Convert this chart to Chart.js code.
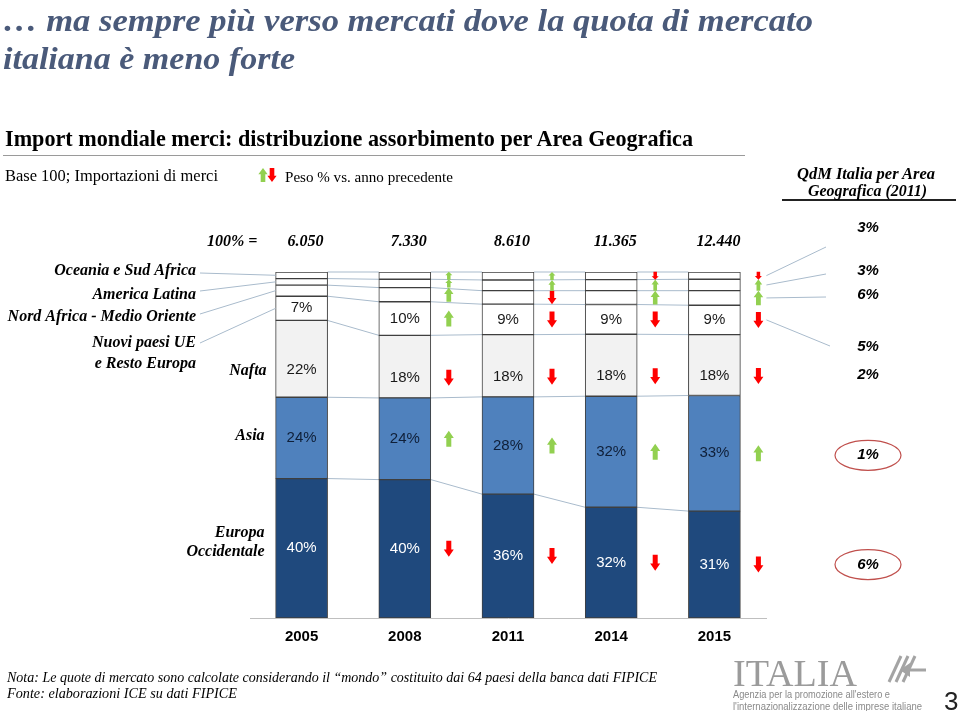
<!DOCTYPE html>
<html lang="it">
<head>
<meta charset="utf-8">
<title>Import mondiale merci</title>
<script src="https://cdn.jsdelivr.net/npm/chart.js@4.4.1/dist/chart.umd.min.js"></script>
<style>
  html, body { margin: 0; padding: 0; background: #fff; }
  #page { position: relative; width: 960px; height: 711px; overflow: hidden; }
  #chart { position: absolute; left: 0; top: 0; }
  .t { position: absolute; white-space: nowrap; line-height: 1; transform-origin: 0 0; }
  .rule { position: absolute; height: 0; }
</style>
</head>
<body>
<div id="page">
  <canvas id="chart" width="960" height="711"></canvas>
  <div class="rule" style="left:3px; top:155px; width:742px; border-top:1px solid #9a9a9a;"></div>
  <div class="rule" style="left:782px; top:199px; width:174px; border-top:2px solid #222;"></div>
  <svg style="position:absolute; left:886px; top:654px;" width="42" height="30" viewBox="0 0 42 30">
    <g stroke="#a4a4a4" stroke-width="3" fill="none">
      <line x1="3" y1="28" x2="15" y2="2"/>
      <line x1="10" y1="28" x2="22" y2="2"/>
      <line x1="17" y1="28" x2="29" y2="2"/>
      <line x1="16" y1="16" x2="40" y2="16"/>
    </g>
    <path d="M14 16 L24 9 L24 23 Z" fill="#a4a4a4"/>
  </svg>
</div>
<script>
/* ======================
   DATA
====================== */
const years = ["2005", "2008", "2011", "2014", "2015"];
const totals = [6050, 7330, 8610, 11365, 12440];

// quote % per area (dal basso verso l'alto)
const europaOcc = [40.3, 40.0, 35.8, 32.0, 30.9];
const asia      = [23.5, 23.6, 28.1, 32.1, 33.4];
const nafta     = [22.2, 18.1, 18.0, 17.9, 17.6];
const nuoviUE   = [7.0, 9.7, 8.8, 8.6, 8.5];
const nordAfr   = [3.2, 4.1, 3.9, 4.0, 4.2];
const amLatina  = [1.9, 2.4, 3.1, 3.2, 3.3];
const oceania   = [1.9, 2.1, 2.3, 2.2, 2.1];

// QdM Italia per area (2011), stesso ordine
const qdmItalia = [6, 1, 2, 5, 6, 3, 3];

const areaLines = [
  ["Europa", "Occidentale"],
  ["Asia"],
  ["Nafta"],
  ["Nuovi paesi UE", "e Resto Europa"],
  ["Nord Africa - Medio Oriente"],
  ["America Latina"],
  ["Oceania e Sud Africa"]
];

/* ======================
   STYLE
====================== */
const series = [europaOcc, asia, nafta, nuoviUE, nordAfr, amLatina, oceania];
const fills = ["#1F497D", "#4F81BD", "#F2F2F2", "#FFFFFF", "#FFFFFF", "#FFFFFF", "#FFFFFF"];
const labelColors = ["#FFFFFF", "#0F1F38", "#1A1A1A", "#1A1A1A"];
const GREEN = "#92D050";
const RED = "#FF0000";
const LINE = "#A9BBCC";

// annotation layout
const leftLabelY = [null, null, null, 343, 317, 295, 271];
const leftLineY = [null, null, null, 343, 314, 291, 273];
const rightLabelY = [null, null, null, 347, 295, 271, 228];
const rightLineEnd = [null, null, null, [830, 346], [826, 297], [826, 274], [826, 247]];

/* ======================
   HTML TEXTS
====================== */
const page = document.getElementById("page");
const SERIF = '"Liberation Serif", "Times New Roman", serif';
const SANS = '"Liberation Sans", Arial, sans-serif';

function addText(t) {
  const el = document.createElement("div");
  el.className = "t";
  el.textContent = t.text;
  el.style.font = `${t.style || ""} ${t.size}px ${t.family}`;
  el.style.color = t.color || "#000";
  el.style.left = t.x + "px";
  el.style.top = (t.base - t.size * 0.84) + "px";
  page.appendChild(el);
  if (t.w) {
    const natural = el.getBoundingClientRect().width;
    el.style.transform = `scaleX(${t.w / natural})`;
  }
}

[
  { text: "\u2026 ma sempre pi\u00f9 verso mercati dove la quota di mercato", x: 3, base: 29, size: 32, family: SERIF, style: "italic bold", color: "#4A5A7A", w: 810 },
  { text: "italiana \u00e8 meno forte", x: 3, base: 67, size: 32, family: SERIF, style: "italic bold", color: "#4A5A7A", w: 292 },
  { text: "Import mondiale merci: distribuzione assorbimento per Area Geografica", x: 5, base: 145, size: 23, family: SERIF, style: "bold", w: 688 },
  { text: "Base 100; Importazioni di merci", x: 5, base: 180, size: 16, family: SERIF, w: 213 },
  { text: "Peso % vs. anno precedente", x: 285, base: 182, size: 14, family: SERIF, w: 168 },
  { text: "QdM Italia per Area", x: 797, base: 178, size: 16, family: SERIF, style: "italic bold", w: 138 },
  { text: "Geografica (2011)", x: 808, base: 195, size: 16, family: SERIF, style: "italic bold", w: 119 },
  { text: "Nota: Le quote di mercato sono calcolate considerando il \u201cmondo\u201d costituito dai 64 paesi della banca dati FIPICE", x: 7, base: 682, size: 15, family: SERIF, style: "italic", w: 650 },
  { text: "Fonte: elaborazioni ICE su dati FIPICE", x: 7, base: 698, size: 15, family: SERIF, style: "italic", w: 230 },
  { text: "ITALIA", x: 733, base: 683, size: 38, family: SERIF, color: "#9B9B9B", w: 124 },
  { text: "Agenzia per la promozione all'estero e", x: 733, base: 697, size: 11, family: SANS, color: "#8A8A8A", w: 157 },
  { text: "l'internazionalizzazione delle imprese italiane", x: 733, base: 709, size: 11, family: SANS, color: "#8A8A8A", w: 189 },
  { text: "3", x: 944, base: 708, size: 26, family: SANS, color: "#222" }
].forEach(addText);

/* ======================
   HELPERS
====================== */
function fmtThousands(n) {
  return String(n).replace(/\B(?=(\d{3})+(?!\d))/g, ".");
}

function drawArrow(ctx, x, y, h, up) {
  const w = Math.max(7, Math.min(10, h * 0.66));
  const head = h * 0.45;
  const shaft = w * 0.5;
  const s = up ? 1 : -1;
  const tip = y - s * h / 2;
  const tail = y + s * h / 2;
  const neck = tip + s * head;
  ctx.fillStyle = up ? GREEN : RED;
  ctx.beginPath();
  ctx.moveTo(x, tip);
  ctx.lineTo(x + w / 2, neck);
  ctx.lineTo(x + shaft / 2, neck);
  ctx.lineTo(x + shaft / 2, tail);
  ctx.lineTo(x - shaft / 2, tail);
  ctx.lineTo(x - shaft / 2, neck);
  ctx.lineTo(x - w / 2, neck);
  ctx.closePath();
  ctx.fill();
}

function line(ctx, x1, y1, x2, y2, color, width) {
  ctx.strokeStyle = color;
  ctx.lineWidth = width || 1;
  ctx.beginPath();
  ctx.moveTo(x1, y1);
  ctx.lineTo(x2, y2);
  ctx.stroke();
}

function segCenter(bar) {
  return (bar.y + bar.base) / 2;
}

/* ======================
   ANNOTATIONS PLUGIN
====================== */
const annotations = {
  id: "annotations",
  beforeDatasetsDraw(chart) {
    // series lines between bars
    const ctx = chart.ctx;
    ctx.save();
    series.forEach((_, d) => {
      const bars = chart.getDatasetMeta(d).data;
      for (let i = 0; i < bars.length - 1; i++) {
        const a = bars[i], b = bars[i + 1];
        line(ctx, a.x + a.width / 2, a.y, b.x - b.width / 2, b.y, LINE, 1);
      }
    });
    ctx.restore();
  },
  afterDatasetsDraw(chart) {
    const ctx = chart.ctx;
    ctx.save();
    const metas = series.map((_, d) => chart.getDatasetMeta(d).data);
    const offsetY = d => (d === 2 ? 11 : 0);

    // segment labels
    ctx.font = `15px ${SANS}`;
    ctx.textAlign = "center";
    ctx.textBaseline = "middle";
    for (let d = 0; d < 4; d++) {
      ctx.fillStyle = labelColors[d];
      metas[d].forEach((bar, i) => {
        ctx.fillText(Math.round(series[d][i]) + "%", bar.x, segCenter(bar) + offsetY(d));
      });
    }

    // arrows vs previous year
    series.forEach((vals, d) => {
      metas[d].forEach((bar, i) => {
        if (i === 0) return;
        const segH = bar.base - bar.y;
        const h = Math.min(16, Math.max(8, segH));
        drawArrow(ctx, bar.x + bar.width / 2 + 18, segCenter(bar) + offsetY(d), h, vals[i] > vals[i - 1]);
      });
    });

    // totals
    ctx.fillStyle = "#000";
    ctx.font = `italic bold 16px ${SERIF}`;
    ctx.textAlign = "left";
    ctx.fillText("100% =", 207, 242);
    ctx.textAlign = "center";
    metas[0].forEach((bar, i) => {
      ctx.fillText(fmtThousands(totals[i]), bar.x + 4, 242);
    });

    // left labels
    const first = metas.map(m => m[0]);
    ctx.font = `italic bold 16px ${SERIF}`;
    ctx.textAlign = "right";
    const leftX = first[0].x - first[0].width / 2 - 11;
    const c = segCenter(first[0]);
    ctx.fillText(areaLines[0][0], leftX, c - 15);
    ctx.fillText(areaLines[0][1], leftX, c + 4);
    ctx.fillText(areaLines[1][0], leftX, segCenter(first[1]) - 2);
    ctx.fillText(areaLines[2][0], leftX + 2, segCenter(first[2]) + 12);
    for (let d = 3; d < 7; d++) {
      areaLines[d].forEach((txt, k) => ctx.fillText(txt, 196, leftLabelY[d] + k * 21));
      line(ctx, 200, leftLineY[d], first[d].x - first[d].width / 2, segCenter(first[d]), LINE, 1);
    }

    // right labels: QdM Italia
    const last = metas.map(m => m[m.length - 1]);
    const rx = 868;
    ctx.font = `italic bold 15px ${SANS}`;
    ctx.textAlign = "center";
    for (let d = 0; d < 7; d++) {
      let y;
      if (d < 3) {
        y = segCenter(last[d]) + [0, 2, 10][d];
      } else {
        y = rightLabelY[d];
        const bar = last[d];
        const end = rightLineEnd[d];
        line(ctx, bar.x + bar.width / 2 + 26, segCenter(bar), end[0], end[1], LINE, 1);
      }
      ctx.fillStyle = "#000";
      ctx.fillText(qdmItalia[d] + "%", rx, y);
      if (d < 2) {
        ctx.strokeStyle = "#C0504D";
        ctx.lineWidth = 1.2;
        ctx.beginPath();
        ctx.ellipse(rx, y, 33, 15, 0, 0, Math.PI * 2);
        ctx.stroke();
      }
    }

    // legend icon
    drawArrow(ctx, 263, 175, 14, true);
    drawArrow(ctx, 272, 175, 14, false);

    ctx.restore();
  }
};

/* ======================
   CHART
====================== */
new Chart(document.getElementById("chart"), {
  type: "bar",
  data: {
    labels: years,
    datasets: series.map((vals, d) => ({
      label: areaLines[d].join(" "),
      data: vals,
      backgroundColor: fills[d],
      borderColor: "#3F3F3F",
      borderWidth: 1,
      borderSkipped: false,
      barThickness: 52
    }))
  },
  options: {
    responsive: false,
    animation: false,
    layout: { padding: { left: 250, right: 194, top: 272, bottom: 63 } },
    plugins: {
      legend: { display: false },
      tooltip: { enabled: false },
      title: { display: false }
    },
    scales: {
      x: {
        stacked: true,
        grid: { display: false, drawTicks: false },
        border: { display: true, color: "#BFBFBF", width: 1 },
        ticks: {
          color: "#000",
          font: { family: "Liberation Sans", size: 15, weight: "bold" },
          padding: 10
        },
        afterFit: s => { s.height = 30; }
      },
      y: { stacked: true, display: false, min: 0, max: 100 }
    }
  },
  plugins: [annotations]
});
</script>
</body>
</html>
